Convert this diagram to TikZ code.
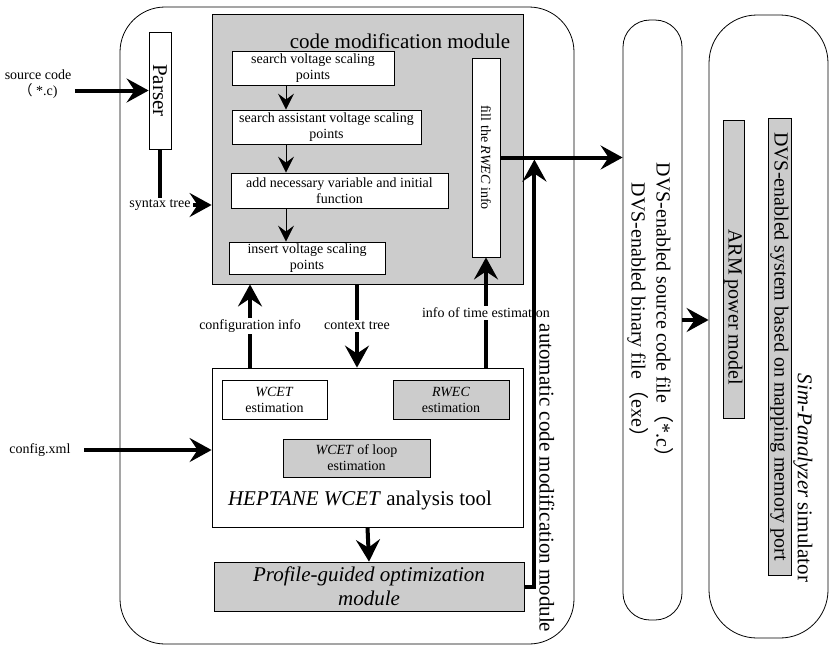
\documentclass[tikz,border=0pt]{standalone}
\usepackage{fontspec}
\setmainfont{Liberation Serif}
\newfontfamily\cjkfont{Noto Sans CJK SC}
\usetikzlibrary{arrows.meta}
\definecolor{modgray}{RGB}{204,204,204}

\begin{document}
\begin{tikzpicture}[x=1pt, y=-1pt, >=Stealth, every node/.style={font=\fontsize{14}{16}\selectfont}]
  \tikzset{box/.style={draw, line width=0.8pt, inner sep=0pt, align=center},
    graybox/.style={box, fill=modgray},
    bigtext/.style={font=\fontsize{21}{24}\selectfont},
    midtext/.style={font=\fontsize{20}{25}\selectfont},
    tag/.style={fill=white, inner sep=2pt},
    pipe/.style={line width=4pt, -{Stealth[length=22pt, width=24pt, inset=8pt]}},
    flow/.style={line width=1pt, -{Stealth[length=16pt, width=16pt, inset=6pt]}}}
  \useasboundingbox (0,0) rectangle (829,646);

  \node[box, rounded corners=45pt, minimum width=454pt, minimum height=637pt] (tool) at (347,325.5) {};
  \node[box, rounded corners=27pt, minimum width=59pt, minimum height=600pt] (dvs) at (652.5,320) {};
  \node[box, rounded corners=48pt, minimum width=119pt, minimum height=623pt] (sim) at (768.5,326.5) {};

  \node[graybox, minimum width=311pt, minimum height=270pt] (mod) at (367.5,149) {};
  \node[bigtext] (modlbl) at (400,41) {code modification module};
  \node[box, fill=white, minimum width=162pt, minimum height=34pt] (search) at (313,68) {search voltage scaling\\points};
  \node[box, fill=white, minimum width=189pt, minimum height=34pt] (assist) at (326.5,127) {search assistant voltage scaling\\points};
  \node[box, fill=white, minimum width=217pt, minimum height=35pt] (addvar) at (339.5,190.5) {add necessary variable and initial\\function};
  \node[box, fill=white, minimum width=156pt, minimum height=32pt] (insert) at (307,258) {insert voltage scaling\\points};
  \node[box, fill=white, minimum width=28pt, minimum height=199pt] (fill) at (486,157.5) {};
  \node[rotate=-90] (filllbl) at (fill) {fill the \textit{RWEC} info};

  \coordinate (spine) at (286,0);
  \draw[flow] (search.south -| spine) -- (assist.north -| spine);
  \draw[flow] (assist.south -| spine) -- (addvar.north -| spine);
  \draw[flow] (addvar.south -| spine) -- (insert.north -| spine);

  \node[box, fill=white, minimum width=22pt, minimum height=117pt] (parser) at (160,90.5) {};
  \node[bigtext, rotate=-90] (parserlbl) at (parser) {Parser};
  \node[align=center] (src) at (38,84) {source code\\{\cjkfont （}\ *.c)};
  \draw[pipe] (src.east |- parser.west) -- (parser.west);
  \draw[pipe] (parser.south) |- node[tag] (syn) {syntax tree} ([yshift=-56pt]mod.west);

  \node[box, minimum width=311pt, minimum height=159pt] (hep) at (367.5,447.5) {};
  \node[box, minimum width=105pt, minimum height=39pt] (wcet) at (274.5,399.5) {\textit{WCET}\\estimation};
  \node[graybox, minimum width=116pt, minimum height=39pt] (rwec) at (451,399.5) {\textit{RWEC}\\estimation};
  \node[graybox, minimum width=147pt, minimum height=38pt] (loop) at (356.5,458) {\textit{WCET} of loop\\estimation};
  \node[bigtext] (heplbl) at (360,500) {\textit{HEPTANE WCET} analysis tool};
  \node (cfg) at (40,450) {config.xml};
  \draw[pipe, shorten <=10pt] (cfg.east) -- (cfg.east -| hep.west);

  \draw[pipe] ([xshift=-117.5pt]hep.north) -- node[tag] (cfginfo) {configuration info} ([xshift=-117.5pt]mod.south);
  \draw[pipe] ([xshift=-10.5pt]mod.south) -- node[tag] (ctx) {context tree} ([xshift=-10.5pt]hep.north);
  \draw[pipe] (fill.south |- hep.north) -- node[tag] (timeinfo) {info of time estimation} (fill.south);

  \node[graybox, bigtext, minimum width=310pt, minimum height=49pt] (prof) at (369,586.5) {\textit{Profile-guided optimization}\\\textit{module}};
  \draw[pipe] (hep.south) -- (prof.north);

  \node[bigtext, rotate=-90] (autolbl) at (547,478) {automatic code modification module};
  \coordinate (join) at ([xshift=34pt]fill.east);
  \draw[pipe] (prof.east) -| ([yshift=-2pt]join);
  \draw[pipe] (fill.east) -- (fill.east -| dvs.west);

  \node[midtext, rotate=-90, align=center] (dvslbl) at (650.5,315) {DVS-enabled source code file{\cjkfont （}*.c{\cjkfont ）}\\DVS-enabled binary file{\cjkfont （}exe{\cjkfont ）}};
  \draw[pipe] (dvs.east) -- (dvs.east -| sim.west);

  \node[graybox, minimum width=21pt, minimum height=298pt] (arm) at (733.5,269) {};
  \node[midtext, rotate=-90] (armlbl) at (733.5,307) {ARM power model};
  \node[graybox, minimum width=23pt, minimum height=457pt] (core) at (779.5,346.5) {};
  \node[midtext, rotate=-90] (corelbl) at (core) {DVS-enabled system based on mapping memory port};
  \node[bigtext, rotate=-90] (simlbl) at (803,478) {\textit{Sim-Panalyzer} simulator};
\end{tikzpicture}
\end{document}
